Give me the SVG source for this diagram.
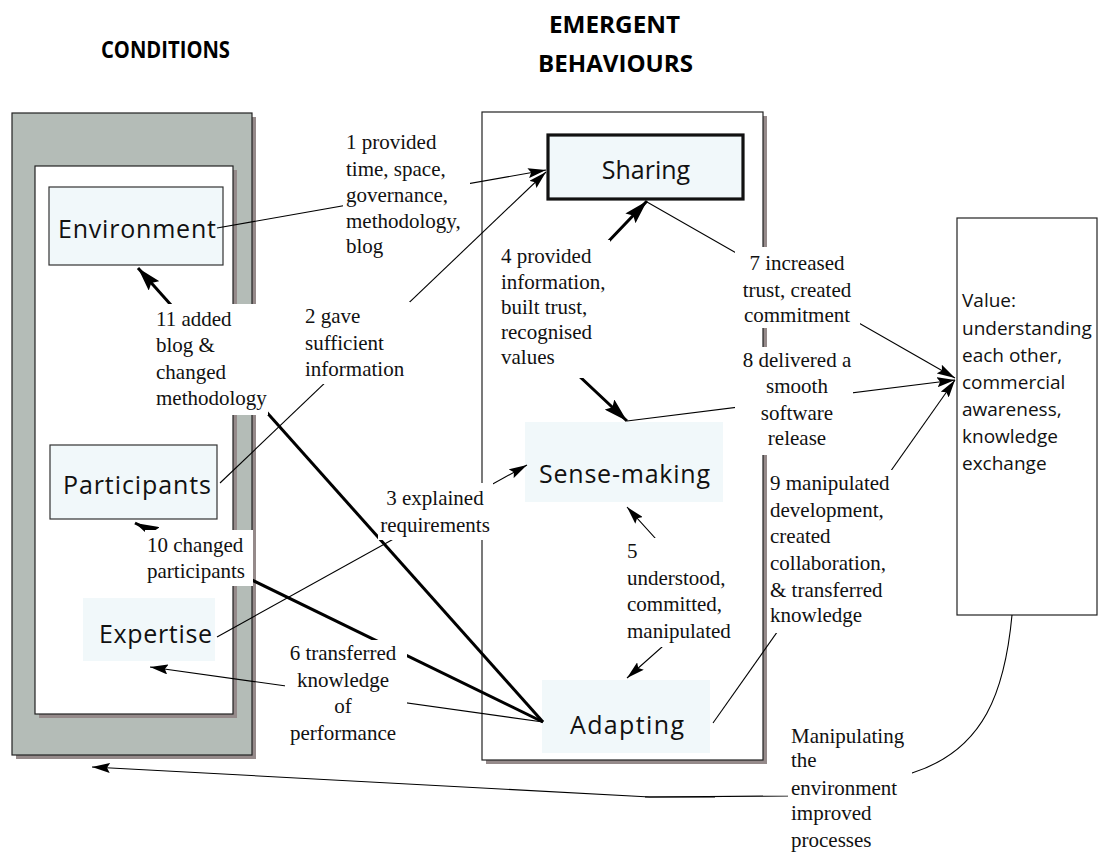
<svg xmlns="http://www.w3.org/2000/svg" width="1100" height="855" viewBox="0 0 1100 855">
  <defs>
    <marker id="ah" viewBox="0 0 18 10" refX="18" refY="5" markerWidth="18" markerHeight="10" markerUnits="userSpaceOnUse" orient="auto-start-reverse">
      <path d="M0,0 L18,5 L0,10 L3,5 Z" fill="#000"/>
    </marker>
    <marker id="ahb" viewBox="0 0 24 14" refX="24" refY="7" markerWidth="24" markerHeight="14" markerUnits="userSpaceOnUse" orient="auto-start-reverse">
      <path d="M0,0 L24,7 L0,14 L4,7 Z" fill="#000"/>
    </marker>
    <style>
      .frame { stroke: #222; stroke-width: 1.2; }
      .shadow { fill: #958a8a; }
      .node { fill: #f1f8fa; stroke: #333; stroke-width: 1.2; }
      .soft { fill: #f1f8fa; stroke: none; }
      .nt { font-family: "Open Sans", "Noto Sans", sans-serif; font-size: 25px; fill: #111; }
      .vt { font-family: "Open Sans", "Noto Sans", sans-serif; font-size: 19px; fill: #111; }
      .hd { font-family: "Open Sans", "Noto Sans", sans-serif; font-size: 24px; font-weight: 700; fill: #000; }
      .lb { font-family: "Liberation Serif", "Times New Roman", serif; font-size: 21px; fill: #111; }
      .bg { fill: #fff; stroke: none; }
      .thin { fill: none; stroke: #000; stroke-width: 1.1; }
      .thick { fill: none; stroke: #000; stroke-width: 3; }
      .c { text-anchor: middle; }
    </style>
  </defs>

  <!-- headings -->
  <text class="hd" x="101" y="58" textLength="129" lengthAdjust="spacingAndGlyphs">CONDITIONS</text>
  <text class="hd" x="549" y="33" textLength="131" lengthAdjust="spacingAndGlyphs">EMERGENT</text>
  <text class="hd" x="538" y="72" textLength="155" lengthAdjust="spacingAndGlyphs">BEHAVIOURS</text>

  <!-- conditions frame -->
  <g id="conditions-frame">
    <rect class="shadow" x="16" y="117" width="240" height="642"/>
    <rect class="frame" x="12" y="113" width="240" height="642" fill="#b4bcb7"/>
    <rect class="shadow" x="39" y="170" width="198" height="548"/>
    <rect class="frame" x="35" y="166" width="198" height="548" fill="#fff"/>
  </g>

  <!-- emergent behaviours frame -->
  <g id="behaviours-frame">
    <rect class="shadow" x="486" y="116" width="281" height="648"/>
    <rect class="frame" x="482" y="112" width="281" height="648" fill="#fff"/>
  </g>

  <!-- nodes -->
  <g id="environment">
    <rect class="node" x="49" y="187" width="174" height="78"/>
    <text class="nt" x="58" y="238" textLength="158">Environment</text>
  </g>
  <g id="participants">
    <rect class="node" x="50" y="445" width="167" height="74"/>
    <text class="nt" x="63" y="494" textLength="148">Participants</text>
  </g>
  <g id="expertise">
    <rect class="soft" x="83" y="598" width="132" height="63"/>
    <text class="nt" x="99" y="643" textLength="113">Expertise</text>
  </g>
  <g id="sharing">
    <rect class="node" x="548" y="135" width="195" height="64" style="stroke-width:3.2;stroke:#111"/>
    <text class="nt c" x="646" y="179">Sharing</text>
  </g>
  <g id="sense-making">
    <rect class="soft" x="525" y="422" width="198" height="80"/>
    <text class="nt" x="539" y="483" textLength="171">Sense-making</text>
  </g>
  <g id="adapting">
    <rect class="soft" x="542" y="680" width="168" height="73"/>
    <text class="nt" x="570" y="734" textLength="114">Adapting</text>
  </g>
  <g id="value">
    <rect x="957" y="218" width="140" height="397" fill="#fff" stroke="#222" stroke-width="1.2"/>
    <text class="vt" x="962" y="307">Value:</text>
    <text class="vt" x="962" y="335">understanding</text>
    <text class="vt" x="962" y="362">each other,</text>
    <text class="vt" x="962" y="389">commercial</text>
    <text class="vt" x="962" y="416">awareness,</text>
    <text class="vt" x="962" y="443">knowledge</text>
    <text class="vt" x="962" y="470">exchange</text>
  </g>

  <!-- connectors -->
  <g id="connectors">
    <path class="thin" d="M217,228 L546,170" marker-end="url(#ah)"/>
    <path class="thin" d="M220,483 L546,172" marker-end="url(#ah)"/>
    <path class="thin" d="M217,637 L527,465" marker-end="url(#ah)"/>
    <path class="thick" d="M647,201 L585,266 L560,358 L627,421" marker-start="url(#ahb)" marker-end="url(#ahb)"/>
    <path class="thin" d="M627,507 L655,538 L662,647 L627,678" marker-start="url(#ah)" marker-end="url(#ah)"/>
    <path class="thin" d="M543,722 L150,667" marker-end="url(#ah)"/>
    <path class="thin" d="M647,202 L955,378" marker-end="url(#ah)"/>
    <path class="thin" d="M627,421 L955,380" marker-end="url(#ah)"/>
    <path class="thin" d="M713,723 L955,380" marker-end="url(#ah)"/>
    <path class="thick" d="M543,722 L135,523" marker-end="url(#ahb)"/>
    <path class="thick" d="M543,722 L138,268" marker-end="url(#ahb)"/>
    <path class="thin" d="M1012,615 C1005,690 985,750 912,773 L788,796 L650,797 L92,767" marker-end="url(#ah)"/>
    <path class="thin" d="M645,797 L715,797" stroke-width="2.4"/>
  </g>

  <!-- connector labels -->
  <g id="label-1">
    <rect class="bg" x="343" y="130" width="127" height="108"/>
    <text class="lb" x="346" y="149">1 provided</text>
    <text class="lb" x="346" y="176">time, space,</text>
    <text class="lb" x="346" y="202">governance,</text>
    <text class="lb" x="346" y="228">methodology,</text>
    <text class="lb" x="346" y="253">blog</text>
  </g>
  <g id="label-2">
    <rect class="bg" x="300" y="302" width="110" height="82"/>
    <text class="lb" x="305" y="323">2 gave</text>
    <text class="lb" x="305" y="350">sufficient</text>
    <text class="lb" x="305" y="376">information</text>
  </g>
  <g id="label-3">
    <rect class="bg" x="378" y="483" width="115" height="57"/>
    <text class="lb c" x="435" y="505">3 explained</text>
    <text class="lb c" x="435" y="532">requirements</text>
  </g>
  <g id="label-4">
    <rect class="bg" x="498" y="240" width="112" height="138"/>
    <text class="lb" x="501" y="263">4 provided</text>
    <text class="lb" x="501" y="289">information,</text>
    <text class="lb" x="501" y="314">built trust,</text>
    <text class="lb" x="501" y="339">recognised</text>
    <text class="lb" x="501" y="364">values</text>
  </g>
  <g id="label-5">
    <rect class="bg" x="624" y="538" width="108" height="109"/>
    <text class="lb" x="627" y="558">5</text>
    <text class="lb" x="627" y="585">understood,</text>
    <text class="lb" x="627" y="611">committed,</text>
    <text class="lb" x="627" y="638">manipulated</text>
  </g>
  <g id="label-6">
    <rect class="bg" x="285" y="640" width="122" height="108"/>
    <text class="lb c" x="343" y="660">6 transferred</text>
    <text class="lb c" x="343" y="687">knowledge</text>
    <text class="lb c" x="343" y="713">of</text>
    <text class="lb c" x="343" y="740">performance</text>
  </g>
  <g id="label-7">
    <rect class="bg" x="735" y="247" width="125" height="81"/>
    <text class="lb c" x="797" y="270">7 increased</text>
    <text class="lb c" x="797" y="297">trust, created</text>
    <text class="lb c" x="797" y="322">commitment</text>
  </g>
  <g id="label-8">
    <rect class="bg" x="735" y="347" width="118" height="108"/>
    <text class="lb c" x="797" y="367">8 delivered a</text>
    <text class="lb c" x="797" y="393">smooth</text>
    <text class="lb c" x="797" y="420">software</text>
    <text class="lb c" x="797" y="445">release</text>
  </g>
  <g id="label-9">
    <rect class="bg" x="768" y="470" width="126" height="163"/>
    <text class="lb" x="770" y="490">9 manipulated</text>
    <text class="lb" x="770" y="517">development,</text>
    <text class="lb" x="770" y="543">created</text>
    <text class="lb" x="770" y="570">collaboration,</text>
    <text class="lb" x="770" y="597">&amp; transferred</text>
    <text class="lb" x="770" y="622">knowledge</text>
  </g>
  <g id="label-10">
    <rect class="bg" x="145" y="530" width="108" height="56"/>
    <text class="lb" x="147" y="552">10 changed</text>
    <text class="lb" x="147" y="578">participants</text>
  </g>
  <g id="label-11">
    <rect class="bg" x="153" y="304" width="115" height="111"/>
    <text class="lb" x="156" y="326">11 added</text>
    <text class="lb" x="156" y="352">blog &amp;</text>
    <text class="lb" x="156" y="379">changed</text>
    <text class="lb" x="156" y="405">methodology</text>
  </g>
  <g id="label-12">
    <rect class="bg" x="788" y="725" width="124" height="130"/>
    <text class="lb" x="791" y="743">Manipulating</text>
    <text class="lb" x="791" y="767">the</text>
    <text class="lb" x="791" y="795">environment</text>
    <text class="lb" x="791" y="820">improved</text>
    <text class="lb" x="791" y="847">processes</text>
  </g>
</svg>
